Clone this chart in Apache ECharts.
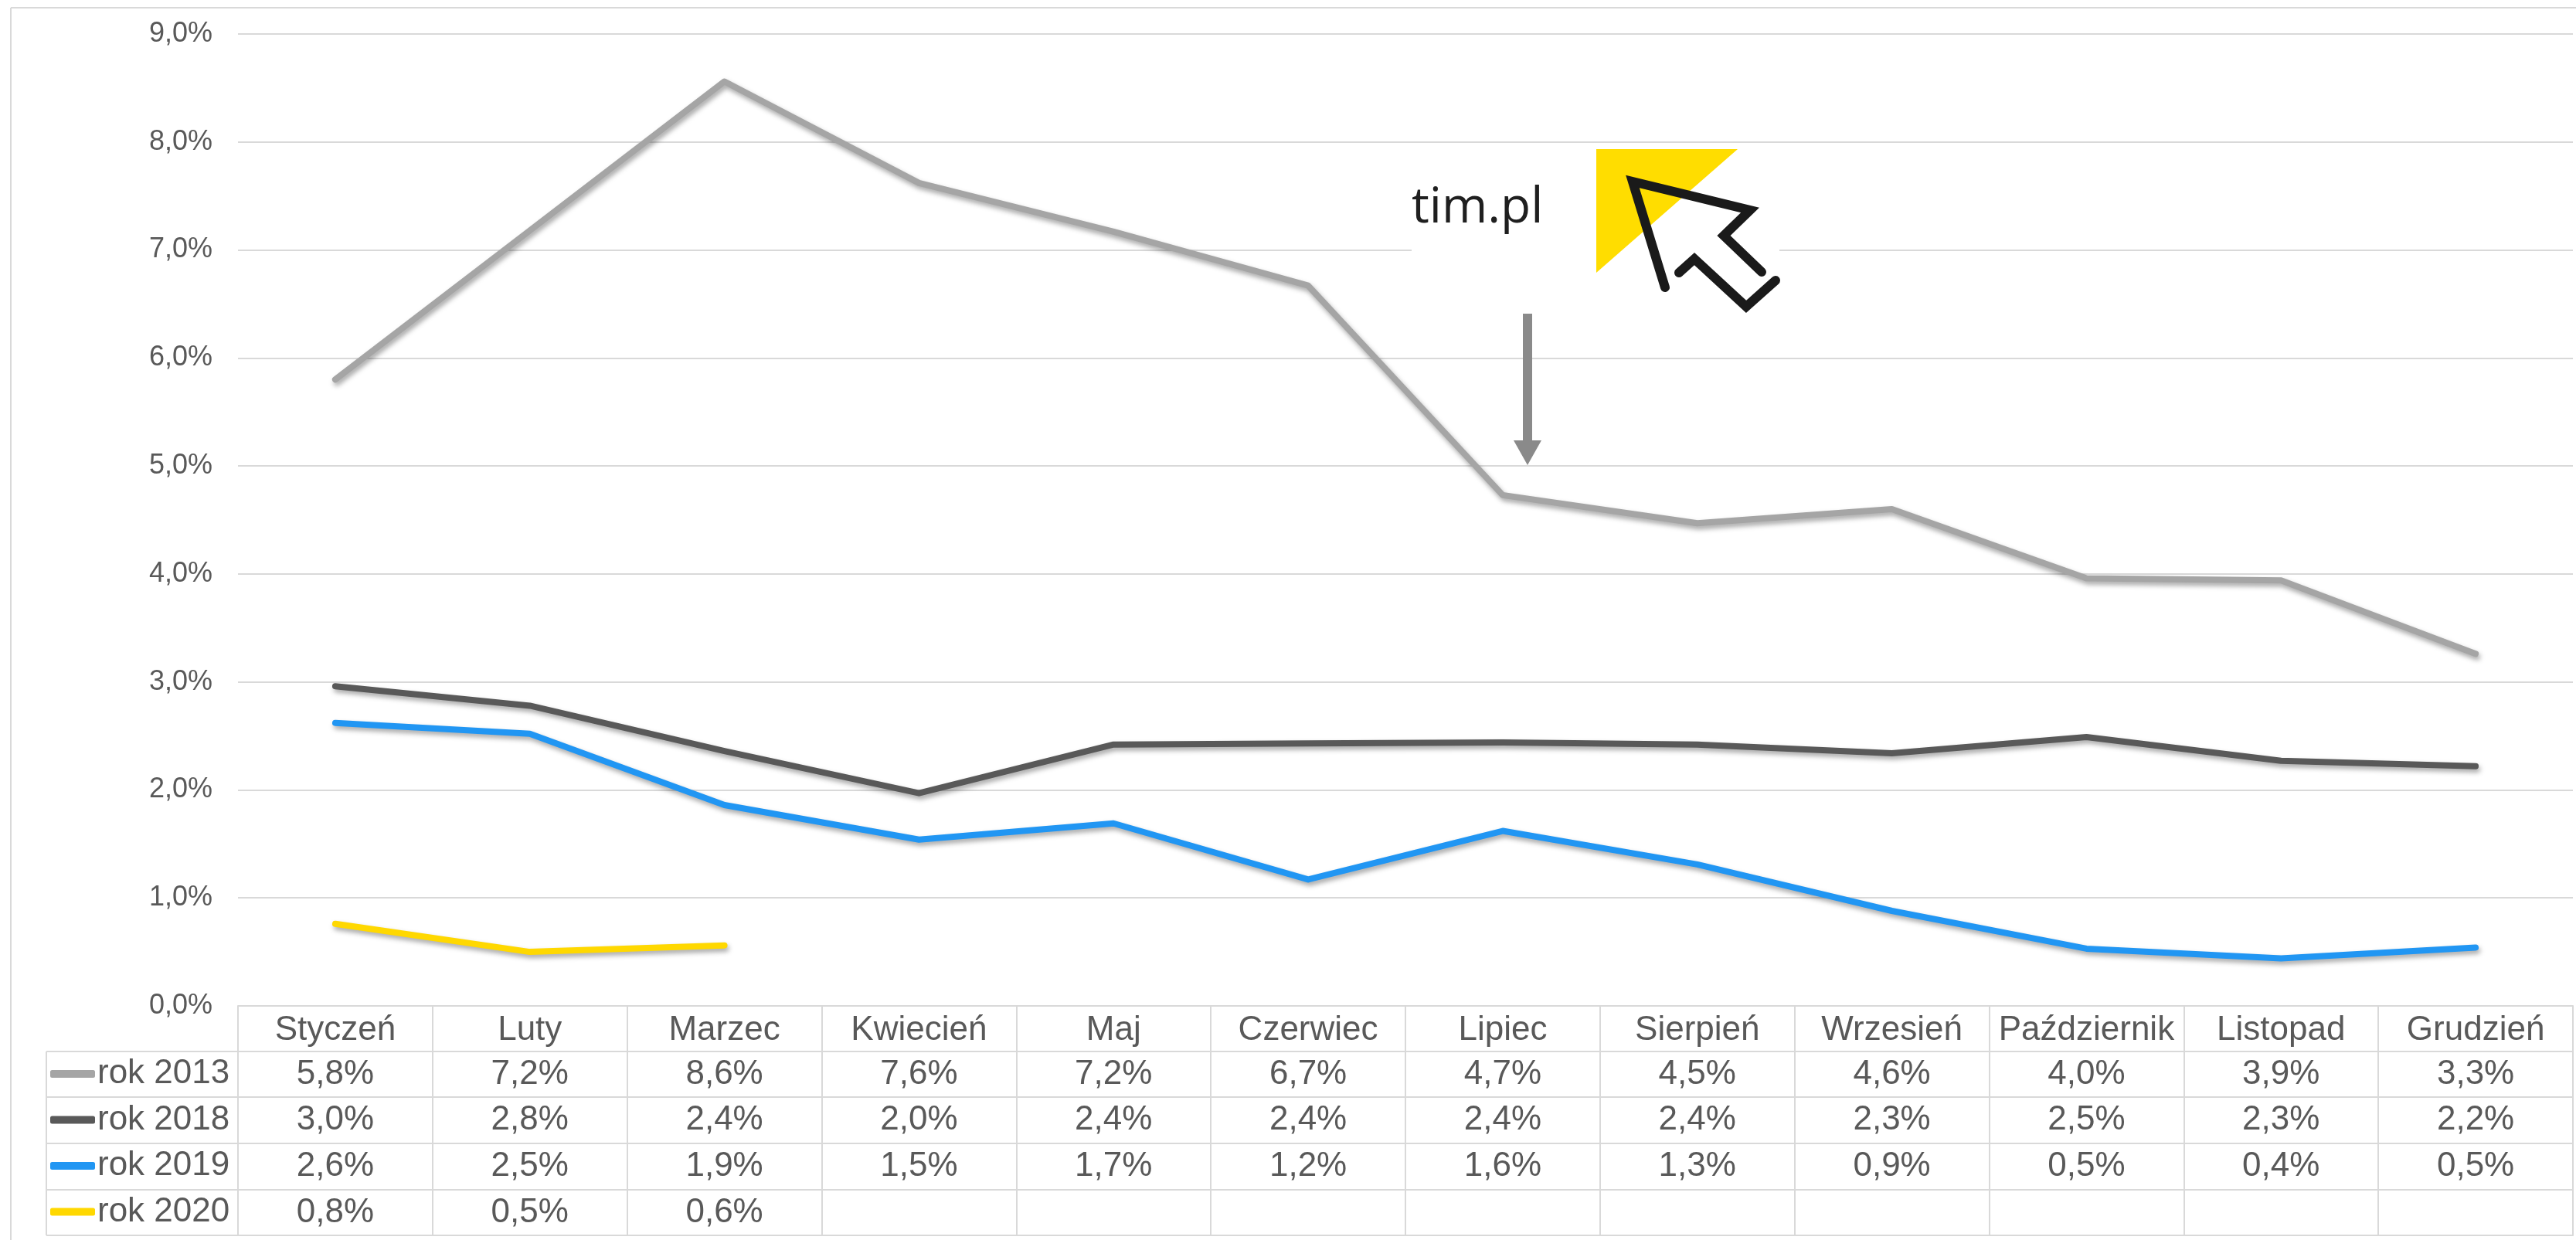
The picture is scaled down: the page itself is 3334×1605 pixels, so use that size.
<!DOCTYPE html>
<html>
<head>
<meta charset="utf-8">
<script src="https://cdn.jsdelivr.net/npm/echarts@6/dist/echarts.min.js"></script>
<style>
  html, body { margin: 0; padding: 0; background: #fff; }
  #chart { width: 3334px; height: 1605px; }
</style>
</head>
<body>
<div id="chart"></div>
<script>
// dane (w %)
const months = ["Styczeń", "Luty", "Marzec", "Kwiecień", "Maj", "Czerwiec", "Lipiec", "Sierpień", "Wrzesień", "Październik", "Listopad", "Grudzień"];
const rok2013 = [5.80, 7.18, 8.56, 7.62, 7.17, 6.67, 4.73, 4.47, 4.60, 3.96, 3.94, 3.26];
const rok2018 = [2.96, 2.78, 2.36, 1.97, 2.42, 2.43, 2.44, 2.42, 2.34, 2.49, 2.27, 2.22];
const rok2019 = [2.62, 2.52, 1.86, 1.54, 1.69, 1.17, 1.62, 1.31, 0.88, 0.53, 0.44, 0.54];
const rok2020 = [0.76, 0.50, 0.56];

const seriesNames = ["rok 2013", "rok 2018", "rok 2019", "rok 2020"];
const seriesData = [rok2013, rok2018, rok2019, rok2020];
const seriesColors = ["#a5a5a5", "#595959", "#2196f3", "#ffd800"];

const textColor = "#595959";
const borderColor = "#d9d9d9";
const fontFamily = "'Liberation Sans', Arial, sans-serif";

const fmt = (v) => (v == null ? "" : v.toFixed(1).replace(".", ",") + "%");

const chart = echarts.init(document.getElementById("chart"));

// layout tabeli pod wykresem
const plotBottom = 1302;
const rowLines = [1361, 1420, 1480, 1540, 1599];
const tableLeft = 60;
const plotLeft = 308;

// wiersze tabeli jako dodatkowe osie X (etykiety = wartości serii)
const rowAxes = seriesData.map((data, r) => ({
  type: "category",
  data: months,
  position: "bottom",
  offset: rowLines[r] - plotBottom,
  axisLine: { show: true, lineStyle: { color: borderColor, width: 2 } },
  axisTick: { show: false },
  axisLabel: {
    interval: 0,
    margin: (rowLines[r + 1] - rowLines[r]) / 2,
    verticalAlign: "middle",
    fontSize: 44,
    lineHeight: 44,
    fontFamily,
    color: textColor,
    formatter: (value, index) => fmt(data[index]),
  },
}));

const bottomAxis = {
  type: "category",
  data: months,
  position: "bottom",
  offset: rowLines[4] - plotBottom,
  axisLine: { show: true, lineStyle: { color: borderColor, width: 2 } },
  axisTick: { show: false },
  axisLabel: { show: false },
};

const tableGraphic = [];
tableGraphic.push({
  type: "line",
  shape: { x1: tableLeft, y1: rowLines[0], x2: tableLeft, y2: rowLines[4] },
  style: { stroke: borderColor, lineWidth: 2 },
});
rowLines.forEach((y) => {
  tableGraphic.push({
    type: "line",
    shape: { x1: tableLeft, y1: y, x2: plotLeft, y2: y },
    style: { stroke: borderColor, lineWidth: 2 },
  });
});

const option = {
  backgroundColor: "#fff",
  animation: false,
  grid: { left: plotLeft, right: 4, top: 44, bottom: 1605 - plotBottom },
  legend: {
    orient: "vertical",
    left: 65,
    top: 1368,
    padding: 0,
    itemGap: 15.5,
    itemWidth: 58,
    itemHeight: 10,
    icon: "roundRect",
    data: seriesNames,
    textStyle: { fontSize: 44, lineHeight: 44, fontFamily, color: textColor, padding: [0, 0, 0, -2] },
  },
  xAxis: [
    {
      type: "category",
      data: months,
      boundaryGap: true,
      axisLine: { show: true, lineStyle: { color: borderColor, width: 2 } },
      axisTick: {
        show: true,
        alignWithLabel: false,
        interval: 0,
        length: rowLines[4] - plotBottom,
        lineStyle: { color: borderColor, width: 2 },
      },
      axisLabel: {
        interval: 0,
        margin: (rowLines[0] - plotBottom) / 2 + 2,
        verticalAlign: "middle",
        fontSize: 44,
        lineHeight: 44,
        fontFamily,
        color: textColor,
      },
      splitLine: { show: false },
    },
    ...rowAxes,
    bottomAxis,
  ],
  yAxis: {
    type: "value",
    min: 0,
    max: 9,
    interval: 1,
    axisLine: { show: false },
    axisTick: { show: false },
    axisLabel: {
      margin: 33,
      fontSize: 36,
      fontFamily,
      color: textColor,
      formatter: (v) => fmt(v),
    },
    splitLine: { show: true, lineStyle: { color: borderColor, width: 2 } },
  },
  series: seriesData.map((data, i) => ({
    name: seriesNames[i],
    type: "line",
    xAxisIndex: 0,
    data: data,
    symbol: "none",
    showSymbol: false,
    color: seriesColors[i],
    itemStyle: { color: seriesColors[i] },
    lineStyle: {
      width: 8,
      color: seriesColors[i],
      cap: "round",
      join: "round",
      shadowColor: "rgba(0,0,0,0.35)",
      shadowBlur: 6,
      shadowOffsetX: 2,
      shadowOffsetY: 4,
    },
    z: 3 + i,
  })),
  graphic: [
    // ramka wykresu
    { type: "line", shape: { x1: 14, y1: 10, x2: 14, y2: 1605 }, style: { stroke: borderColor, lineWidth: 2 } },
    { type: "line", shape: { x1: 14, y1: 10, x2: 3334, y2: 10 }, style: { stroke: borderColor, lineWidth: 2 } },
    ...tableGraphic,
    // logo tim.pl
    { type: "rect", z: 10, shape: { x: 1827, y: 189, width: 476, height: 212 }, style: { fill: "#fff" } },
    {
      type: "text",
      z: 11,
      style: {
        text: "tim.pl",
        x: 1827,
        y: 270,
        textVerticalAlign: "middle",
        verticalAlign: "middle",
        font: "64px 'Open Sans', 'Noto Sans', sans-serif",
        fill: "#1f1f1f",
      },
    },
    {
      type: "polygon",
      z: 11,
      shape: { points: [[2066, 193], [2249, 193], [2066, 353]] },
      style: { fill: "#ffdd00" },
    },
    {
      type: "polyline",
      z: 12,
      shape: { points: [[2155, 372], [2113, 235], [2265, 272], [2231, 305], [2280, 352]] },
      style: { stroke: "#1a1a1a", lineWidth: 12, fill: null, lineJoin: "miter", lineCap: "round" },
    },
    {
      type: "polyline",
      z: 12,
      shape: { points: [[2173, 353], [2193, 335], [2260, 397], [2298, 363]] },
      style: { stroke: "#1a1a1a", lineWidth: 12, fill: null, lineJoin: "miter", lineCap: "round" },
    },
    // strzałka
    { type: "rect", z: 11, shape: { x: 1971, y: 406, width: 12, height: 166 }, style: { fill: "#8a8a8a" } },
    {
      type: "polygon",
      z: 11,
      shape: { points: [[1959, 570], [1995, 570], [1977, 602]] },
      style: { fill: "#8a8a8a" },
    },
  ],
};

chart.setOption(option);
window.addEventListener("resize", () => chart.resize());
</script>
</body>
</html>
